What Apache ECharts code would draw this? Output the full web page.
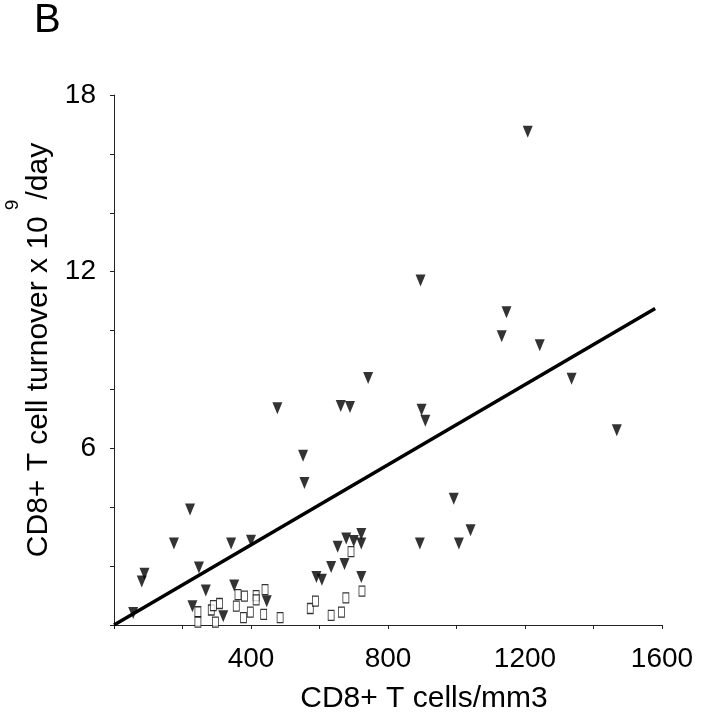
<!DOCTYPE html>
<html><head><meta charset="utf-8">
<script src="https://cdn.jsdelivr.net/npm/echarts/dist/echarts.min.js"></script>
<style>html,body{margin:0;padding:0;background:#fff}#c{width:701px;height:719px}</style>
</head><body><div id="c"></div>
<script>
// Filled down-triangles: CD8+ T cells/mm3 vs turnover (x10^9/day)
const triX = [56, 81, 89, 175, 222, 248, 268, 229, 319, 342, 400, 351, 446, 477, 552, 556, 591, 607, 634, 653, 662, 673, 678, 689, 700, 722, 722, 722, 742, 893, 895, 898, 909, 992, 1007, 1041, 1132, 1146, 1208, 1243, 1336, 1468];
const triY = [0.41, 1.48, 1.74, 2.77, 3.92, 1.95, 1.17, 0.64, 0.30, 2.77, 2.86, 1.34, 0.81, 7.36, 5.75, 4.82, 1.63, 1.54, 1.97, 2.66, 7.44, 2.07, 2.94, 7.40, 2.85, 3.09, 2.77, 1.63, 8.39, 2.77, 11.7, 7.31, 6.94, 4.29, 2.77, 3.22, 9.81, 10.62, 16.75, 9.50, 8.36, 6.61];
// Open rectangles
const sqX = [245, 245, 284, 290, 308, 296, 362, 381, 357, 398, 378, 415, 415, 441, 437, 485, 573, 588, 634, 664, 677, 724, 692];
const sqY = [0.45, 0.10, 0.51, 0.66, 0.73, 0.10, 1.03, 0.98, 0.64, 0.44, 0.25, 1.00, 0.85, 1.20, 0.36, 0.25, 0.56, 0.81, 0.33, 0.44, 0.92, 1.15, 2.49];
// Regression line end points
const lineX = [0, 1580];
const lineY = [0, 10.75];
// Axis tick labels shown
const xTickLabels = [400, 800, 1200, 1600];
const yTickLabels = [6, 12, 18];

const FONT = "'Liberation Sans', Arial, sans-serif";
const zip = (a, b) => a.map((v, i) => [v, b[i]]);

const chart = echarts.init(document.getElementById('c'), null, {renderer: 'canvas'});
chart.setOption({
  backgroundColor: '#fff',
  animation: false,
  grid: {left: 114, right: 39, top: 95, bottom: 90, containLabel: false},
  xAxis: {
    type: 'value', min: 0, max: 1600, interval: 200,
    axisLine: {show: true, onZero: false, lineStyle: {color: '#222', width: 1}},
    axisTick: {show: true, length: 4, lineStyle: {color: '#222'}},
    splitLine: {show: false},
    axisLabel: {
      margin: 20, color: '#000', fontSize: 28, fontFamily: FONT,
      formatter: v => xTickLabels.includes(v) ? String(v) : ''
    },
    name: 'CD8+ T cells/mm3', nameLocation: 'middle', nameGap: 59,
    nameTextStyle: {color: '#000', fontSize: 30, fontFamily: FONT, padding: [0, 0, 0, 72]}
  },
  yAxis: {
    type: 'value', min: 0, max: 18, interval: 2,
    axisLine: {show: true, onZero: false, lineStyle: {color: '#222', width: 1}},
    axisTick: {show: true, length: 4, lineStyle: {color: '#222'}},
    splitLine: {show: false},
    axisLabel: {
      margin: 18, color: '#000', fontSize: 28, fontFamily: FONT,
      formatter: v => yTickLabels.includes(v) ? String(v) : ''
    },
    name: 'CD8+ T cell turnover x 10  /day', nameLocation: 'middle', nameGap: 56,
    nameTextStyle: {color: '#000', fontSize: 30, fontFamily: FONT, padding: [0, 0, 0, 20]}
  },
  graphic: [
    {type: 'text', left: 34, top: 1, style: {text: 'B', fontSize: 40, fontFamily: FONT, fill: '#000'}},
    {type: 'text', x: 13, y: 205, rotation: Math.PI / 2,
     style: {text: '9', fontSize: 19, fontFamily: FONT, fill: '#000', align: 'center', verticalAlign: 'middle'}}
  ],
  series: [
    {
      type: 'line', data: zip(lineX, lineY), showSymbol: false, symbol: 'none',
      lineStyle: {color: '#000', width: 3.5}, z: 2
    },
    {
      type: 'scatter', data: zip(sqX, sqY), symbol: 'rect', symbolSize: [6, 10],
      itemStyle: {color: '#fff', borderColor: '#000', borderWidth: 1}, z: 3
    },
    {
      type: 'scatter', data: zip(triX, triY), symbol: 'triangle', symbolRotate: 180, symbolSize: [10, 12],
      itemStyle: {color: '#000'}, z: 4
    }
  ]
});
</script>
</body></html>
